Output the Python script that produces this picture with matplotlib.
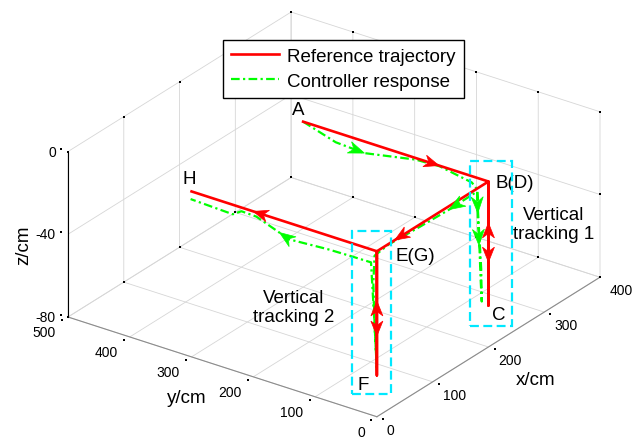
import matplotlib
matplotlib.use('Agg')
import numpy as np
import matplotlib.pyplot as plt
from matplotlib.patches import Rectangle, Polygon
from mpl_toolkits.mplot3d import proj3d

plt.rcParams['font.family'] = ['Liberation Sans', 'DejaVu Sans']
plt.rcParams['axes.unicode_minus'] = False
plt.rcParams['grid.color'] = '#d6d6d6'
plt.rcParams['grid.linewidth'] = 0.6

W, H = 641, 439

# reference trajectory A -> B -> C -> D -> E -> F -> G -> H
ref_x = [200, 200, 200, 200, 0, 0, 0, 0]
ref_y = [300, 0, 0, 0, 0, 0, 0, 300]
ref_z = [0, 0, -60, 0, 0, -60, 0, 0]

# controller response
resp_x = [200, 181, 178, 197, 199, 188, 182, 180, 181, 184, 186, 188, 187, 184, 181, 180,
          174, 123, 71, 20, -2, -3, -2, 0, -2, -4, -5, -25, -26, -31, -8, -7, -18, -15]
resp_y = [300, 230, 181, 115, 78, 16, 2, 0, 0, 0, 0, 0, 0, 0, 0, 0,
          -5, -6, -4, -1, 2, 3, 2, 0, 2, 4, 5, 18, 55, 114, 188, 213, 217, 288]
resp_z = [0, 0, 0, 0, 0, 0, -1, -3, -15, -30, -45, -56, -40, -25, -10, -2,
          0, 0, 0, 0, -2, -15, -35, -58, -35, -15, -5, 0, 0, 0, 0, 0, 0, 0]

# arrow heads (tail, tip)
ref_arrows = [((200, 100, 0), (200, 80, 0)), ((52, 0, 0), (32, 0, 0)), ((0, 180, 0), (0, 200, 0)),
              ((200, 0, -30), (200, 0, -20)), ((200, 0, -29), (200, 0, -39)),
              ((0, 0, -33), (0, 0, -24)), ((0, 0, -32), (0, 0, -41))]
resp_arrows = [((180, 212, 0), (178, 181, 0)), ((150, -6, 0), (123, -6, 0)),
               ((180, 0, -5), (181, 0, -12)), ((182, 0, -20), (183, 0, -28)),
               ((-31, 114, 0), (-24, 136, 0))]

# point labels: text, point, offset in pixels
labels = [('A', (200, 300, 0), (-5, 12)), ('B(D)', (200, 0, 0), (7, -1)),
          ('C', (200, 0, -60), (10, -9)), ('E(G)', (0, 0, 0), (19, -4)),
          ('F', (0, 0, -60), (-14, -9)), ('H', (0, 300, 0), (-2, 13))]

x_ticks = [0, 100, 200, 300, 400]
y_ticks = [0, 100, 200, 300, 400, 500]
z_ticks = [-80, -40, 0]

fig = plt.figure(figsize=(W / 100, H / 100), dpi=100)
ax = fig.add_axes([0, 0, 1, 1], projection='3d', computed_zorder=False)
ax.set_proj_type('ortho')
ax.view_init(elev=26.7, azim=-144.3)
ax.set_box_aspect((384, 382, 186))
ax.set_xlim(0, 400)
ax.set_ylim(0, 500)
ax.set_zlim(-80, 0)
ax.set_xticks(x_ticks)
ax.set_yticks(y_ticks)
ax.set_zticks(z_ticks)
ax.set_xticklabels([])
ax.set_yticklabels([])
ax.set_zticklabels([])

for axis in (ax.xaxis, ax.yaxis, ax.zaxis):
    axis.set_pane_color((1, 1, 1, 0))
    axis.pane.set_edgecolor('#d6d6d6')
    axis._axinfo['tick']['inward_factor'] = 0.0
    axis._axinfo['tick']['outward_factor'] = 0.0
    axis.line.set_color('0.55')
    axis.line.set_linewidth(0.8)
ax.zaxis.line.set_color('black')

l1, = ax.plot(ref_x, ref_y, ref_z, color='red', lw=1.9, label='Reference trajectory', zorder=3)
l2, = ax.plot(resp_x, resp_y, resp_z, color=(0, 1, 0), lw=1.6, dashes=[3.9, 1.5, 1, 1.5],
              label='Controller response', zorder=2)

# tick dots, front edges a little outside, back edges on the box
tx = [(x, -10, -80) for x in x_ticks] + [(x, 500, 0) for x in x_ticks] + [(x, 500, -80) for x in x_ticks]
ty = [(-10, y, -80) for y in y_ticks] + [(400, y, 0) for y in y_ticks] + [(400, y, -80) for y in y_ticks]
tz = [(0, 511, z) for z in z_ticks] + [(400, 0, z) for z in z_ticks] + [(400, 500, z) for z in z_ticks]
dots = np.array(tx + ty + tz)
ax.scatter(dots[:, 0], dots[:, 1], dots[:, 2], s=2.5, c='black', marker='s', depthshade=False,
           linewidths=0, zorder=1)

# fit the projected box onto the reference pixel positions
fig.canvas.draw()


def proj(p):
    x2, y2, _ = proj3d.proj_transform(p[0], p[1], p[2], ax.get_proj())
    return x2, y2


def to_disp(p):
    return ax.transData.transform(proj(p))


pos = ax.get_position()
ox, oy, side = pos.x0 * W, pos.y0 * H, pos.width * W
c1 = to_disp((0, 500, -80))
c2 = to_disp((400, 0, -80))
s = (600 - 68) / (c2[0] - c1[0])
q1 = ((c1[0] - ox) / side, (c1[1] - oy) / side)
side2 = side * s
ox2 = 68 - side2 * q1[0]
oy2 = (H - 318) - side2 * q1[1]
ax.set_position([ox2 / W, oy2 / H, side2 / W, side2 / H])
fig.canvas.draw()


def head(tail, tip, color, L=15, w=6, notch=4.5):
    a = to_disp(tail)
    b = to_disp(tip)
    u = (b - a) / np.hypot(*(b - a))
    n = np.array([-u[1], u[0]])
    pts = [b, b - L * u + w * n, b - (L - notch) * u, b - L * u - w * n]
    pts = [(p[0] / W, p[1] / H) for p in pts]
    fig.add_artist(Polygon(pts, closed=True, transform=fig.transFigure, fc=color, ec=color,
                           lw=0.5, zorder=5))


for tail, tip in ref_arrows:
    head(tail, tip, 'red')
for tail, tip in resp_arrows:
    head(tail, tip, (0, 1, 0), L=16, w=6, notch=5)

for txt, p, off in labels:
    ax.annotate(txt, xy=proj(p), xytext=off, textcoords='offset pixels',
                ha='left' if len(txt) > 1 else 'center', va='center', fontsize=13.5)

# tick labels
for v in x_ticks:
    ax.annotate(str(v), xy=proj((v, 0, -80)), xytext=(10, -13), textcoords='offset pixels',
                ha='left', va='center', fontsize=10)
for v in y_ticks:
    ax.annotate(str(v), xy=proj((0, v, -80)), xytext=(-12, -15), textcoords='offset pixels',
                ha='right', va='center', fontsize=10)
for v in z_ticks:
    ax.annotate(str(v), xy=proj((0, 500, v)), xytext=(-12, 0), textcoords='offset pixels',
                ha='right', va='center', fontsize=10)

ax.annotate('x/cm', xy=proj((200, 0, -80)), xytext=(47, -33), textcoords='offset pixels',
            ha='center', va='center', fontsize=13.5)
ax.annotate('y/cm', xy=proj((0, 250, -80)), xytext=(-36, -31), textcoords='offset pixels',
            ha='center', va='center', fontsize=13.5)
ax.annotate('z/cm', xy=proj((0, 500, -40)), xytext=(-44, -10), textcoords='offset pixels',
            ha='center', va='center', fontsize=13.5, rotation=90)

# dashed boxes round the two vertical tracking parts
for top, bot, pad in [((200, 0, 0), (200, 0, -60), (18, 24, 21, 20)),
                      ((0, 0, 0), (0, 0, -60), (25, 14, 20, 19))]:
    a = to_disp(top)
    b = to_disp(bot)
    x0 = min(a[0], b[0]) - pad[0]
    x1 = max(a[0], b[0]) + pad[1]
    y1 = a[1] + pad[2]
    y0 = b[1] - pad[3]
    fig.add_artist(Rectangle((x0 / W, y0 / H), (x1 - x0) / W, (y1 - y0) / H,
                             transform=fig.transFigure, fill=False, ec='#00e8ff',
                             lw=1.6, ls=(0, (4, 2))))

fig.text(554 / W, 1 - 225 / H, 'Vertical\ntracking 1', ha='center', va='center', fontsize=13.5)
fig.text(294 / W, 1 - 308 / H, 'Vertical\ntracking 2', ha='center', va='center', fontsize=13.5)

leg = ax.legend(handles=[l1, l2], loc='upper left', bbox_to_anchor=(223 / W, 1 - 41 / H),
                bbox_transform=fig.transFigure, borderaxespad=0, fontsize=13.5, fancybox=False,
                framealpha=1, edgecolor='black', handlelength=2.55, handletextpad=0.45,
                borderpad=0.42, labelspacing=0.41)
leg.get_frame().set_linewidth(1.0)

fig.savefig('out.png', dpi=100)
